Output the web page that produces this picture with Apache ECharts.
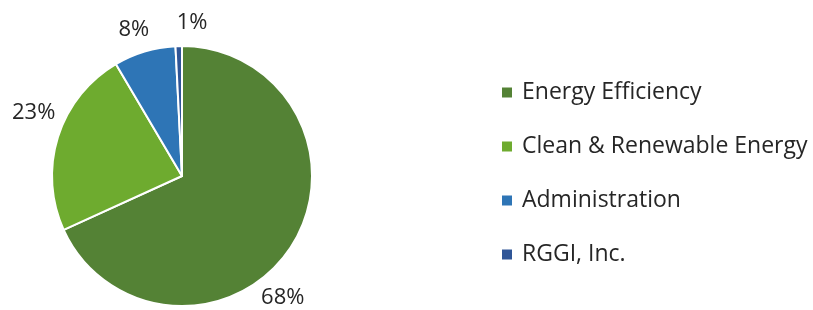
<!DOCTYPE html>
<html><head><meta charset="utf-8">
<script src="https://cdn.jsdelivr.net/npm/echarts@6/dist/echarts.min.js"></script>
<style>html,body{margin:0;padding:0;background:#fff}#c{width:813px;height:310px}</style>
</head><body><div id="c"></div>
<script>
const categories = ['Energy Efficiency', 'Clean & Renewable Energy', 'Administration', 'RGGI, Inc.'];
const values = [68.2, 23.3, 7.7, 0.8];
const valueLabels = ['68%', '23%', '8%', '1%'];
const colors = ['#548235', '#6EAB2F', '#2E75B6', '#2F5597'];

// label nudges (style only)
const labelShift = [[-42, 47], [10, -22], [12, -14], [34, -15]];

const chart = echarts.init(document.getElementById('c'));
const FONT = 'Open Sans';
chart.setOption({
  animation: false,
  color: colors,
  legend: {
    orient: 'vertical',
    left: 495,
    top: 76,
    itemWidth: 12,
    itemHeight: 12,
    itemGap: 31,
    icon: 'rect',
    textStyle: {fontFamily: FONT, fontSize: 23, lineHeight: 23, color: '#262626', padding: [0, 0, 0, 4]},
    data: categories
  },
  series: [{
    type: 'pie',
    center: [182, 176],
    radius: 130,
    startAngle: 90,
    clockwise: true,
    avoidLabelOverlap: false,
    itemStyle: {borderColor: '#fff', borderWidth: 2},
    label: {
      show: true,
      position: 'outside',
      fontFamily: FONT, fontSize: 22, color: '#262626',
      formatter: p => valueLabels[p.dataIndex]
    },
    labelLine: {show: false, length: 8, length2: 0},
    labelLayout: p => ({dx: labelShift[p.dataIndex][0], dy: labelShift[p.dataIndex][1]}),
    data: categories.map((n, i) => ({name: n, value: values[i]}))
  }]
});
</script></body></html>
